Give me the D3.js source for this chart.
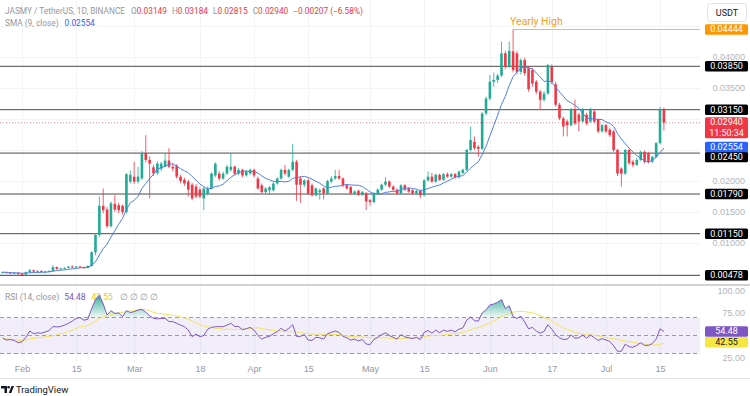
<!DOCTYPE html>
<html>
<head>
<meta charset="utf-8">
<script src="https://cdn.jsdelivr.net/npm/d3@7"></script>
<style>
  html, body { margin: 0; padding: 0; background: #fff; }
  svg { display: block; font-family: Roboto, "Liberation Sans", sans-serif; }
</style>
</head>
<body>
<svg id="chart" width="750" height="396"></svg>
<script>
// daily candles from 27 Jan 2024, [open, high, low, close]
const firstDay = "2024-01-27";
const candles = [
  [0.0052,0.0054,0.0051,0.0053],[0.0053,0.0054,0.0051,0.0052],[0.0052,0.0053,0.0050,0.0051],[0.0051,0.0053,0.0050,0.0052],
  [0.0052,0.0053,0.0049,0.0050],[0.0050,0.0051,0.0048,0.0049],[0.0049,0.0054,0.0049,0.0053],[0.0053,0.0058,0.0052,0.0056],
  [0.0056,0.0057,0.0053,0.0054],[0.0054,0.0056,0.0053,0.0055],[0.0055,0.0056,0.0053,0.0054],[0.0054,0.0055,0.0053,0.0054],
  [0.0054,0.0056,0.0053,0.0055],[0.0055,0.0064,0.0054,0.0061],[0.0061,0.0062,0.0057,0.0058],[0.0058,0.0060,0.0057,0.0059],
  [0.0059,0.0061,0.0058,0.0060],[0.0060,0.0063,0.0059,0.0062],[0.0062,0.0064,0.0060,0.0061],[0.0061,0.0063,0.0060,0.0062],
  [0.0062,0.0063,0.0060,0.0061],[0.0061,0.0062,0.0059,0.0060],[0.0060,0.0064,0.0059,0.0063],[0.0063,0.0087,0.0062,0.0085],
  [0.0085,0.0116,0.0080,0.0113],[0.0113,0.0175,0.0110,0.0160],[0.0160,0.0188,0.0148,0.0153],[0.0154,0.0158,0.0124,0.0127],
  [0.0127,0.0167,0.0125,0.0164],[0.0163,0.0177,0.0150,0.0154],[0.0161,0.0165,0.0148,0.0153],[0.0160,0.0162,0.0146,0.0150],
  [0.0150,0.0213,0.0148,0.0211],[0.0199,0.0217,0.0196,0.0210],[0.0207,0.0231,0.0195,0.0199],[0.0199,0.0223,0.0196,0.0207],
  [0.0204,0.0248,0.0202,0.0245],[0.0245,0.0274,0.0230,0.0234],[0.0234,0.0240,0.0172,0.0228],[0.0222,0.0226,0.0208,0.0212],
  [0.0213,0.0232,0.0210,0.0228],[0.0220,0.0231,0.0216,0.0228],[0.0224,0.0245,0.0222,0.0233],[0.0233,0.0253,0.0221,0.0223],
  [0.0223,0.0228,0.0216,0.0220],[0.0225,0.0227,0.0204,0.0207],[0.0207,0.0210,0.0196,0.0200],[0.0202,0.0205,0.0192,0.0196],
  [0.0199,0.0202,0.0175,0.0186],[0.0194,0.0197,0.0169,0.0172],[0.0191,0.0195,0.0172,0.0175],[0.0186,0.0190,0.0172,0.0175],
  [0.0172,0.0190,0.0153,0.0188],[0.0180,0.0191,0.0177,0.0188],[0.0188,0.0214,0.0186,0.0212],[0.0209,0.0230,0.0206,0.0228],
  [0.0212,0.0216,0.0201,0.0204],[0.0204,0.0215,0.0202,0.0212],[0.0212,0.0226,0.0210,0.0223],[0.0218,0.0245,0.0215,0.0223],
  [0.0223,0.0225,0.0209,0.0212],[0.0212,0.0221,0.0210,0.0218],[0.0218,0.0220,0.0206,0.0209],[0.0209,0.0218,0.0207,0.0215],
  [0.0212,0.0220,0.0210,0.0218],[0.0218,0.0220,0.0206,0.0209],[0.0204,0.0207,0.0186,0.0188],[0.0193,0.0196,0.0180,0.0182],
  [0.0182,0.0190,0.0180,0.0188],[0.0185,0.0192,0.0178,0.0190],[0.0185,0.0198,0.0183,0.0196],[0.0196,0.0206,0.0194,0.0204],
  [0.0204,0.0220,0.0202,0.0218],[0.0218,0.0226,0.0209,0.0212],[0.0207,0.0220,0.0205,0.0218],[0.0218,0.0260,0.0216,0.0231],
  [0.0231,0.0234,0.0168,0.0194],[0.0204,0.0208,0.0165,0.0194],[0.0194,0.0203,0.0190,0.0201],[0.0201,0.0204,0.0178,0.0180],
  [0.0193,0.0196,0.0175,0.0177],[0.0177,0.0190,0.0175,0.0188],[0.0182,0.0188,0.0170,0.0185],[0.0188,0.0190,0.0170,0.0180],
  [0.0180,0.0202,0.0178,0.0200],[0.0199,0.0208,0.0197,0.0204],[0.0204,0.0218,0.0202,0.0208],[0.0208,0.0218,0.0202,0.0204],
  [0.0204,0.0206,0.0190,0.0193],[0.0193,0.0195,0.0186,0.0188],[0.0190,0.0192,0.0178,0.0180],[0.0180,0.0185,0.0178,0.0183],
  [0.0184,0.0186,0.0176,0.0178],[0.0178,0.0184,0.0176,0.0182],[0.0180,0.0182,0.0153,0.0167],[0.0169,0.0171,0.0160,0.0166],
  [0.0166,0.0182,0.0164,0.0180],[0.0180,0.0188,0.0178,0.0186],[0.0186,0.0196,0.0184,0.0194],[0.0194,0.0206,0.0192,0.0199],
  [0.0199,0.0201,0.0189,0.0191],[0.0191,0.0193,0.0184,0.0186],[0.0186,0.0188,0.0178,0.0180],[0.0180,0.0195,0.0178,0.0193],
  [0.0193,0.0195,0.0184,0.0186],[0.0188,0.0190,0.0181,0.0183],[0.0185,0.0187,0.0178,0.0180],[0.0180,0.0186,0.0178,0.0184],
  [0.0184,0.0186,0.0172,0.0177],[0.0177,0.0203,0.0175,0.0201],[0.0201,0.0215,0.0199,0.0207],[0.0207,0.0213,0.0197,0.0199],
  [0.0199,0.0212,0.0197,0.0210],[0.0210,0.0212,0.0200,0.0202],[0.0202,0.0213,0.0200,0.0211],[0.0211,0.0214,0.0205,0.0207],
  [0.0207,0.0213,0.0205,0.0211],[0.0211,0.0213,0.0204,0.0206],[0.0206,0.0217,0.0204,0.0215],[0.0213,0.0220,0.0211,0.0218],
  [0.0218,0.0252,0.0216,0.0250],[0.0250,0.0288,0.0248,0.0266],[0.0263,0.0272,0.0250,0.0253],[0.0255,0.0258,0.0239,0.0252],
  [0.0252,0.0311,0.0250,0.0309],[0.0309,0.0336,0.0306,0.0333],[0.0333,0.0371,0.0330,0.0360],[0.0360,0.0375,0.0352,0.0363],
  [0.0363,0.0373,0.0358,0.0370],[0.0370,0.0425,0.0368,0.0406],[0.0406,0.0410,0.0380,0.0384],[0.0384,0.0425,0.0382,0.0410],
  [0.0409,0.04444,0.0375,0.0379],[0.0406,0.0410,0.0372,0.0376],[0.0376,0.0398,0.0372,0.0395],[0.0395,0.0399,0.0370,0.0374],
  [0.0382,0.0385,0.0344,0.0348],[0.0379,0.0382,0.0352,0.0357],[0.0360,0.0363,0.0340,0.0344],[0.0344,0.0347,0.0315,0.0331],
  [0.0331,0.0345,0.0328,0.0341],[0.0341,0.0389,0.0339,0.0387],[0.0384,0.0388,0.0356,0.0360],[0.0356,0.0360,0.0320,0.0323],
  [0.0323,0.0326,0.0298,0.0301],[0.0301,0.0304,0.0272,0.0288],[0.0296,0.0299,0.0272,0.0290],[0.0290,0.0318,0.0288,0.0315],
  [0.0315,0.0331,0.0290,0.0293],[0.0307,0.0310,0.0280,0.0296],[0.0296,0.0318,0.0294,0.0315],[0.0307,0.0310,0.0290,0.0293],
  [0.0296,0.0318,0.0294,0.0315],[0.0312,0.0315,0.0293,0.0296],[0.0299,0.0301,0.0277,0.0280],[0.0280,0.0292,0.0278,0.0290],
  [0.0290,0.0292,0.0277,0.0280],[0.0283,0.0285,0.0271,0.0274],[0.0280,0.0282,0.0247,0.0250],[0.0250,0.0252,0.0208,0.0212],
  [0.0220,0.0222,0.0191,0.0212],[0.0212,0.0252,0.0210,0.0250],[0.0250,0.0252,0.0226,0.0229],[0.0231,0.0234,0.0222,0.0226],
  [0.0226,0.0237,0.0224,0.0234],[0.0234,0.0249,0.0232,0.0247],[0.0247,0.0249,0.0228,0.0231],[0.0245,0.0247,0.0228,0.0231],
  [0.0231,0.0241,0.0229,0.0239],[0.0239,0.0263,0.0237,0.0261],[0.0261,0.0320,0.0259,0.0315],[0.03149,0.03184,0.02815,0.0294]
];

// RSI (14, close) per candle
const rsiValues = [
  47, 45, 45.5, 44.5, 42, 43, 48, 55, 52, 53, 52.5, 54, 55.5, 60, 59.5, 60,
  61.5, 63.5, 66, 69, 70, 67, 68, 80, 90, 95, 85, 72.8, 77.5, 74.6, 75, 71,
  77.6, 75.5, 76.5, 78.3, 79, 76, 72, 69, 68.5, 69, 69, 65.5, 65.4, 63.5, 61.5, 59.8,
  56, 48.7, 51.5, 48.7, 50, 57, 59, 59.8, 59.8, 59.8, 61.5, 63.5, 60, 60, 56.5, 57.5,
  59, 56, 50, 46, 48, 49, 52, 54, 58, 55, 58, 62, 49, 49, 51, 45,
  44.5, 48, 47.5, 46, 52, 53.5, 55, 53.5, 49, 47.5, 45, 46, 44, 45.5, 40.5, 40,
  45.5, 48, 51, 53, 50, 48, 46, 51, 48.5, 47.5, 46.5, 48, 45.5, 53.5, 55.5, 52.5,
  56, 53, 56, 54.5, 56, 54, 57, 58.5, 67, 70.5, 66.5, 66, 75, 78.5, 84, 85,
  87, 90, 80, 83, 71, 69, 71.5, 65, 57.5, 59, 55, 52.5, 54.5, 62, 57, 51,
  47.5, 45.5, 46, 50.5, 47, 47.5, 50.5, 47, 50.5, 47.5, 44.5, 46.5, 45, 43.5, 38.5, 32.5,
  32.5, 40.5, 37.5, 37, 39, 42, 39, 39, 41, 46, 57.5, 54.48
];

// horizontal support / resistance levels
const levels = [0.0385, 0.0315, 0.0245, 0.0179, 0.0115, 0.00478];
const yearlyHigh = 0.04444;

const priceTicks = [0.04, 0.035, 0.02, 0.015, 0.01];
const rsiTicks = [100, 75, 25];
const rsiBands = [70, 50, 30];
const timeTicks = [
  ["2024-02-01", "Feb"], ["2024-02-15", "15"], ["2024-03-01", "Mar"], ["2024-03-18", "18"],
  ["2024-04-01", "Apr"], ["2024-04-15", "15"], ["2024-05-01", "May"], ["2024-05-15", "15"],
  ["2024-06-01", "Jun"], ["2024-06-17", "17"], ["2024-07-01", "Jul"], ["2024-07-15", "15"]
];

const upColor = "#22ab94", downColor = "#f23645";

const svg = d3.select("#chart");
const day0 = new Date(firstDay + "T00:00:00Z");
const data = candles.map((c, i) => ({
  date: d3.utcDay.offset(day0, i), o: c[0], h: c[1], l: c[2], c: c[3]
}));

const x = d3.scaleUtc()
  .domain([data[0].date, data[data.length - 1].date])
  .range([2.7, 663.9]);
const y = d3.scaleLinear().domain([0.02, 0.04]).range([181, 57]);
const yr = d3.scaleLinear().domain([25, 75]).range([358, 313]);
const plotRight = 700;

// faint grid
const grid = svg.append("g").attr("stroke", "#f3f4f7").attr("stroke-width", 1);
d3.range(0.005, 0.0451, 0.005).forEach(p => {
  grid.append("line").attr("x1", 0).attr("x2", plotRight)
    .attr("y1", Math.round(y(p)) + 0.5).attr("y2", Math.round(y(p)) + 0.5);
});
timeTicks.forEach(t => {
  const xx = Math.round(x(new Date(t[0] + "T00:00:00Z"))) + 0.5;
  grid.append("line").attr("x1", xx).attr("x2", xx).attr("y1", 0).attr("y2", 283);
  grid.append("line").attr("x1", xx).attr("x2", xx).attr("y1", 287).attr("y2", 362);
});

// levels
levels.forEach(p => {
  svg.append("line").attr("x1", 0).attr("x2", plotRight)
    .attr("y1", y(p)).attr("y2", y(p))
    .attr("stroke", "#4a4a4a").attr("stroke-width", 1);
});
const highIdx = d3.maxIndex(data, d => d.h);
svg.append("line").attr("x1", x(data[highIdx].date)).attr("x2", plotRight)
  .attr("y1", y(yearlyHigh)).attr("y2", y(yearlyHigh))
  .attr("stroke", "#f7b84b").attr("stroke-width", 1);
svg.append("text").attr("x", x(data[highIdx].date) - 3).attr("y", y(yearlyHigh) - 4)
  .attr("font-size", 10.5).attr("fill", "#f0a020").text("Yearly High");

// last price dotted line
const last = data[data.length - 1];
svg.append("line").attr("x1", 0).attr("x2", plotRight)
  .attr("y1", y(last.c)).attr("y2", y(last.c))
  .attr("stroke", downColor).attr("stroke-opacity", 0.6)
  .attr("stroke-dasharray", "1,2");

// candles
const bw = 2.6;
const cs = svg.append("g").selectAll("g").data(data).join("g")
  .attr("fill", d => d.c >= d.o ? upColor : downColor)
  .attr("stroke", d => d.c >= d.o ? upColor : downColor);
cs.append("line")
  .attr("x1", d => x(d.date)).attr("x2", d => x(d.date))
  .attr("y1", d => y(d.h)).attr("y2", d => y(d.l))
  .attr("stroke-width", 1).attr("stroke-opacity", 0.8);
cs.append("rect")
  .attr("x", d => x(d.date) - bw / 2)
  .attr("y", d => y(Math.max(d.o, d.c)))
  .attr("width", bw)
  .attr("height", d => Math.max(1, Math.abs(y(d.o) - y(d.c))))
  .attr("stroke", "none");

// SMA 9 of closes
const sma = data.map((d, i) => ({
  date: d.date,
  v: d3.mean(data.slice(Math.max(0, i - 8), i + 1), e => e.c)
}));
svg.append("path").datum(sma)
  .attr("d", d3.line().x(d => x(d.date)).y(d => y(d.v)))
  .attr("fill", "none").attr("stroke", "#4f7fe8").attr("stroke-width", 1);

// ---- RSI panel ----
const rsi = rsiValues.map((v, i) => ({ date: data[i].date, v }));
const rsiMa = rsi.map((d, i) => ({
  date: d.date, v: d3.mean(rsi.slice(Math.max(0, i - 13), i + 1), e => e.v)
}));

svg.append("rect").attr("x", 0).attr("width", plotRight)
  .attr("y", yr(70)).attr("height", yr(30) - yr(70))
  .attr("fill", "#7e57c2").attr("fill-opacity", 0.1);
rsiBands.forEach(b => {
  svg.append("line").attr("x1", 0).attr("x2", plotRight)
    .attr("y1", yr(b)).attr("y2", yr(b))
    .attr("stroke", "#9a9ba3").attr("stroke-dasharray", "4,3");
});

// legend RSI
const rl = svg.append("text").attr("x", 5).attr("y", 299.5).attr("font-size", 8.5);
rl.append("tspan").attr("fill", "#9598a1").text("RSI (14, close)");
rl.append("tspan").attr("dx", 5).attr("fill", "#7e57c2").text("54.48");
rl.append("tspan").attr("dx", 6).attr("fill", "#e8c820").text("42.55");
rl.append("tspan").attr("dx", 7).attr("fill", "#9598a1").text("∅   ∅   ∅   ∅");

const defs = svg.append("defs");
const gr = defs.append("linearGradient").attr("id", "ob")
  .attr("gradientUnits", "userSpaceOnUse").attr("x1", 0).attr("x2", 0)
  .attr("y1", yr(100)).attr("y2", yr(70));
gr.append("stop").attr("offset", 0).attr("stop-color", "#089981").attr("stop-opacity", 0.95);
gr.append("stop").attr("offset", 1).attr("stop-color", "#089981").attr("stop-opacity", 0.06);
const gr2 = defs.append("linearGradient").attr("id", "os")
  .attr("gradientUnits", "userSpaceOnUse").attr("x1", 0).attr("x2", 0)
  .attr("y1", yr(30)).attr("y2", yr(0));
gr2.append("stop").attr("offset", 0).attr("stop-color", "#f23645").attr("stop-opacity", 0.06);
gr2.append("stop").attr("offset", 1).attr("stop-color", "#f23645").attr("stop-opacity", 0.9);

svg.append("path").datum(rsi)
  .attr("d", d3.area().x(d => x(d.date)).y0(yr(70)).y1(d => yr(Math.max(d.v, 70))))
  .attr("fill", "url(#ob)");
svg.append("path").datum(rsi)
  .attr("d", d3.area().x(d => x(d.date)).y0(yr(30)).y1(d => yr(Math.min(d.v, 30))))
  .attr("fill", "url(#os)");

svg.append("path").datum(rsiMa)
  .attr("d", d3.line().x(d => x(d.date)).y(d => yr(d.v)))
  .attr("fill", "none").attr("stroke", "#f3e35c").attr("stroke-width", 1);
svg.append("path").datum(rsi)
  .attr("d", d3.line().x(d => x(d.date)).y(d => yr(d.v)))
  .attr("fill", "none").attr("stroke", "#7e57c2").attr("stroke-width", 1);

// panel separators
svg.append("line").attr("x1", 0).attr("x2", 750).attr("y1", 285).attr("y2", 285)
  .attr("stroke", "#cfd1d6").attr("stroke-width", 2);
svg.append("line").attr("x1", 0).attr("x2", 750).attr("y1", 378.5).attr("y2", 378.5)
  .attr("stroke", "#e0e3eb").attr("stroke-width", 1);

// header legend
const h1 = svg.append("text").attr("x", 5).attr("y", 13.5).attr("font-size", 8.3);
h1.append("tspan").attr("fill", "#9598a1").text("JASMY / TetherUS, 1D, BINANCE");
[["O", "0.03149"], ["H", "0.03184"], ["L", "0.02815"], ["C", "0.02940"]].forEach((p, i) => {
  h1.append("tspan").attr("dx", i === 0 ? 6 : 5).attr("fill", "#9598a1").text(p[0]);
  h1.append("tspan").attr("fill", downColor).text(p[1]);
});
h1.append("tspan").attr("dx", 5).attr("fill", downColor).text("−0.00207 (−6.58%)");
const h2 = svg.append("text").attr("x", 5).attr("y", 25.5).attr("font-size", 8.3);
h2.append("tspan").attr("fill", "#9598a1").text("SMA (9, close)");
h2.append("tspan").attr("dx", 6).attr("fill", "#2962ff").text("0.02554");

// price axis
const pa = svg.append("g").attr("transform", "translate(745,0)")
  .call(d3.axisRight(y).tickValues(priceTicks).tickFormat(d3.format(".5f")).tickSize(0));
pa.select(".domain").remove();
pa.selectAll("text").attr("x", 0).attr("text-anchor", "end")
  .attr("fill", "#b2b5be").attr("font-size", 9).attr("font-family", null);

const ra = svg.append("g").attr("transform", "translate(745,0)")
  .call(d3.axisRight(yr).tickValues(rsiTicks).tickFormat(d3.format(".2f")).tickSize(0));
ra.select(".domain").remove();
ra.selectAll("text").attr("x", 0).attr("text-anchor", "end")
  .attr("fill", "#b2b5be").attr("font-size", 9).attr("font-family", null);

// time axis
const tickDates = timeTicks.map(t => new Date(t[0] + "T00:00:00Z"));
const tickLabel = new Map(timeTicks.map(t => [+new Date(t[0] + "T00:00:00Z"), t[1]]));
const ta = svg.append("g").attr("transform", "translate(0,362)")
  .call(d3.axisBottom(x).tickValues(tickDates).tickFormat(d => tickLabel.get(+d)).tickSize(0));
ta.select(".domain").remove();
ta.selectAll("text").attr("fill", "#9598a1").attr("font-size", 9).attr("font-family", null)
  .attr("dy", "0.71em").attr("y", 4);

// tags on the price scale
function tag(yc, lines, bg, fg, h) {
  const g = svg.append("g");
  g.append("rect").attr("x", 705).attr("y", yc - h / 2).attr("width", 43).attr("height", h)
    .attr("rx", 1.5).attr("fill", bg);
  lines.forEach((t, i) => {
    g.append("text").attr("x", 726.5).attr("y", yc - h / 2 + 8.2 + i * 10.5)
      .attr("text-anchor", "middle").attr("font-size", 9).attr("fill", fg).text(t);
  });
}
tag(y(yearlyHigh), ["0.04444"], "#ff9800", "#fff", 10.5);
levels.forEach(p => {
  let yc = y(p);
  if (p === 0.0245) yc += 4;
  tag(yc, [d3.format(".5f")(p)], "#000", "#fff", 10.5);
});
tag(y(last.c) + 5, ["0.02940", "11:50:34"], downColor, "#fff", 21);
tag(y(sma[sma.length - 1].v) - 1, ["0.02554"], "#2962ff", "#fff", 10.5);
tag(yr(54.48), ["54.48"], "#7e57c2", "#fff", 10.5);
tag(yr(42.55), ["42.55"], "#f5e642", "#131722", 10.5);

// currency box
svg.append("rect").attr("x", 707.5).attr("y", 3.5).attr("width", 39).attr("height", 18)
  .attr("rx", 3).attr("fill", "#fff").attr("stroke", "#e0e3eb");
svg.append("text").attr("x", 727).attr("y", 15.5).attr("text-anchor", "middle")
  .attr("font-size", 9).attr("fill", "#131722").text("USDT");

// TradingView mark
const logo = svg.append("g").attr("transform", "translate(1,386)").attr("fill", "#131722");
logo.append("path").attr("d", "M0 0H6V7H3.5V2.5H0Z");
logo.append("circle").attr("cx", 7.6).attr("cy", 1.3).attr("r", 1.3);
logo.append("path").attr("d", "M7.8 7L10.5 0H13L10.3 7Z");
svg.append("text").attr("x", 16).attr("y", 393).attr("font-size", 9.5)
  .attr("fill", "#131722").text("TradingView");
</script>
</body>
</html>
